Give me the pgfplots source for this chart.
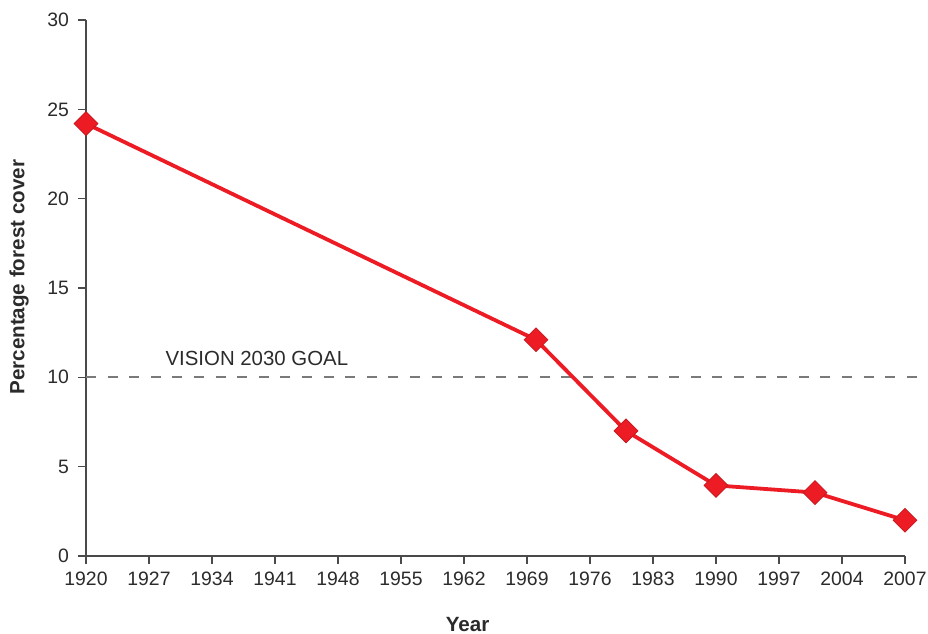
\documentclass[border=0pt]{standalone}
\usepackage{fontspec}
\setmainfont{Liberation Sans}
\usepackage{pgfplots}
\pgfplotsset{compat=1.18}
\usetikzlibrary{calc}
\definecolor{lred}{HTML}{ED1C24}
\definecolor{axgray}{HTML}{4A4A4A}
\definecolor{txt}{HTML}{2B2B2B}
\definecolor{goalgray}{HTML}{7A7A7A}
\begin{document}
\begin{tikzpicture}[font=\fontsize{9.7}{11.6}\selectfont]
\begin{axis}[
  scale only axis,
  width=409.5pt, height=268pt,
  xmin=1920, xmax=2011,
  ymin=0, ymax=30,
  clip=false,
  axis x line*=bottom,
  axis y line*=left,
  axis line style={axgray, line width=0.8pt, -},
  tick style={axgray, line width=0.7pt},
  tick align=outside,
  major tick length=4pt,
  xtick={1920,1927,1934,1941,1948,1955,1962,1969,1976,1983,1990,1997,2004,2011},
  xticklabels={1920,1927,1934,1941,1948,1955,1962,1969,1976,1983,1990,1997,2004,2007},
  ytick={0,5,10,15,20,25,30},
  /pgf/number format/assume math mode=true,
  ticklabel style={text=txt},
  yticklabel style={xshift=-1pt},
  xticklabel style={yshift=-0.5pt},
  xlabel={\textbf{Year}},
  ylabel={\textbf{Percentage forest cover}},
  xlabel style={at={(rel axis cs:0.466,0)}, anchor=center, yshift=-34.5pt, font=\fontsize{10.3}{12}\selectfont, text=txt},
  ylabel style={at={(rel axis cs:0,0.52)}, anchor=center, rotate=0, yshift=33.5pt, font=\fontsize{10.3}{12}\selectfont, text=txt},
]
\addplot[goalgray, line width=1pt, dash pattern=on 5pt off 5.8pt, forget plot] coordinates {(1920,10) (2014.3,10)};
\node[anchor=base west, inner sep=0pt, text=txt, font=\fontsize{10.2}{12}\selectfont] at (axis cs:1928.8,10) [yshift=6pt] {VISION 2030 GOAL};
\addplot[lred, line width=1.9pt, mark=square*, mark size=4.2pt,
  mark options={rotate=45, line width=0.4pt, fill=lred, draw=lred!85!black}]
  coordinates {(1920,24.2) (1970,12.1) (1980,7.0) (1990,3.95) (2001,3.55) (2011,2.0)};
\coordinate (bl) at (rel axis cs:0,0);
\coordinate (tr) at (rel axis cs:1,1);
\end{axis}
\pgfresetboundingbox
\path ($(bl)+(-43pt,-39pt)$) rectangle ($(tr)+(11.5pt,10pt)$);
\end{tikzpicture}
\end{document}
